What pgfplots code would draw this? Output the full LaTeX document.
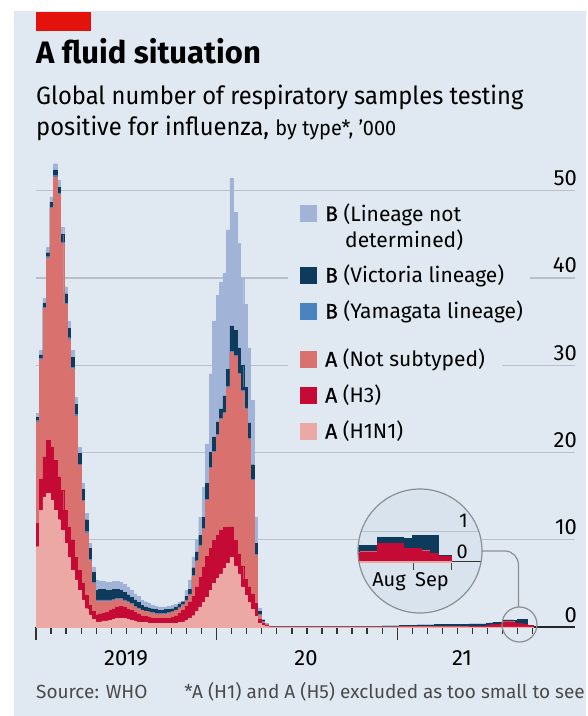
\documentclass[border=0pt]{standalone}
\usepackage{fontspec}
\setmainfont{Fira Sans}
\newfontfamily\subfont{Fira Sans}[FakeStretch=0.95]
\newfontfamily\medfont{Fira Sans}[FakeBold=0.8]
\usepackage{pgfplots}
\pgfplotsset{compat=1.18}
\usepackage{pgfplotstable}

\definecolor{bgc}{HTML}{E0E9F1}
\definecolor{insetbg}{HTML}{D8E3ED}
\definecolor{gridc}{HTML}{B7C1CA}
\definecolor{circc}{HTML}{8A8F94}
\definecolor{cBnd}{HTML}{A1B3D7}
\definecolor{cVic}{HTML}{0E3A5B}
\definecolor{cYam}{HTML}{4A83BF}
\definecolor{cAn}{HTML}{D9716F}
\definecolor{cH3}{HTML}{C40A35}
\definecolor{cH1}{HTML}{ECA8A5}
\definecolor{ered}{HTML}{E3120B}
\definecolor{foot}{HTML}{4A4A4A}

% weeks since 1 Jan 2019; values in '000
\pgfplotstableread{
w h1 h3 an ya vi bn
0 9.2 2.7 11.6 0.15 0.35 0.5
1 13.4 3.6 13.7 0.15 0.35 0.5
2 14.9 4.6 17.0 0.15 0.45 0.6
3 15.3 6.1 20.9 0.15 0.45 0.6
4 14.5 6.1 27.4 0.15 0.55 0.6
5 13.4 5.7 32.5 0.15 0.65 0.7
6 12.3 4.9 32.4 0.15 0.65 0.8
7 11.1 4.6 28.3 0.15 0.85 0.8
8 9.6 3.8 23.6 0.15 1.05 0.8
9 8.0 3.5 21.5 0.15 1.05 0.8
10 6.5 3.5 19.6 0.15 1.15 0.8
11 5.4 2.6 16.2 0.15 1.15 0.8
12 4.2 2.3 12.0 0.15 1.25 0.7
13 3.1 1.9 9.4 0.15 1.25 0.7
14 2.1 1.6 7.1 0.15 1.35 0.7
15 1.4 1.1 5.1 0.15 1.25 0.6
16 0.9 0.9 3.2 0.15 1.15 0.6
17 0.6 0.8 1.6 0.1 1.1 1.2
18 0.6 0.9 1.5 0.1 1.2 1.0
19 0.7 0.9 1.4 0.1 1.2 0.9
20 0.7 1.0 1.3 0.1 1.1 0.9
21 0.8 1.1 1.1 0.1 1.1 0.9
22 0.9 1.2 1.0 0.1 1.1 0.9
23 1.0 1.3 0.9 0.1 1.0 0.9
24 1.0 1.4 0.8 0.1 0.9 0.9
25 1.0 1.3 0.7 0.1 0.9 0.9
26 0.9 1.2 0.7 0.1 0.8 0.9
27 0.8 1.1 0.7 0.1 0.7 0.8
28 0.7 1.0 0.6 0.1 0.7 0.7
29 0.6 0.9 0.6 0.1 0.6 0.7
30 0.5 0.8 0.6 0.05 0.55 0.6
31 0.5 0.7 0.6 0.05 0.45 0.6
32 0.4 0.7 0.6 0.05 0.45 0.5
33 0.4 0.6 0.6 0.05 0.45 0.4
34 0.4 0.6 0.5 0.05 0.45 0.4
35 0.4 0.6 0.5 0.05 0.35 0.4
36 0.4 0.6 0.5 0.05 0.35 0.4
37 0.4 0.6 0.5 0.05 0.45 0.3
38 0.4 0.6 0.6 0.05 0.35 0.4
39 0.4 0.7 0.6 0.05 0.35 0.4
40 0.4 0.9 0.6 0.05 0.35 0.3
41 0.5 1.1 0.6 0.05 0.35 0.2
42 0.6 1.3 0.6 0.1 0.3 0.1
43 0.8 1.6 0.6 0.1 0.4 0.7
44 1.0 1.9 0.8 0.1 0.5 1.1
45 1.3 2.2 2.3 0.1 0.9 1.2
46 1.8 2.8 2.9 0.1 1.0 1.4
47 2.3 3.4 3.6 0.1 1.1 2.1
48 2.8 4.1 4.3 0.1 1.3 3.4
49 3.4 4.7 6.4 0.1 1.9 4.5
50 4.2 4.8 9.2 0.1 1.7 9.0
51 5.0 4.9 10.1 0.1 1.7 13.2
52 5.6 4.9 11.5 0.1 1.4 14.5
53 6.1 5.0 12.7 0.1 1.1 14.5
54 6.7 4.7 13.1 0.1 1.9 14.0
55 7.3 4.2 16.0 0.1 1.9 16.0
56 8.0 3.5 20.0 0.1 2.9 16.9
57 7.0 2.9 21.1 0.1 2.9 13.5
58 6.1 2.3 20.6 0.1 2.9 12.0
59 4.6 2.4 20.0 0.1 2.9 10.0
60 3.6 1.9 19.5 0.1 2.4 9.5
61 2.8 1.8 16.9 0.1 1.8 8.6
62 2.0 1.8 13.0 0.1 1.7 7.4
63 1.2 1.5 5.5 0.1 1.3 3.0
64 0.4 0.5 0.5 0.05 0.35 0.4
65 0.2 0.2 0.2 0.02 0.18 0.1
66 0.1 0.1 0.1 0.01 0.04 0.05
67 0.03 0.03 0.03 0 0.02 0.02
68 0.01 0.01 0.01 0 0.02 0.01
75 0.01 0.01 0.01 0 0.02 0.01
90 0.01 0.01 0.01 0 0.04 0.01
100 0.01 0.01 0.02 0 0.10 0.01
105 0.01 0.02 0.02 0 0.16 0.01
110 0.01 0.02 0.02 0 0.20 0.01
115 0.01 0.03 0.02 0 0.24 0.01
120 0.01 0.03 0.02 0 0.26 0.01
125 0.01 0.05 0.02 0 0.27 0.01
128 0.01 0.08 0.02 0 0.25 0.01
130 0.02 0.15 0.02 0 0.20 0.01
131 0.02 0.20 0.02 0 0.22 0.01
132 0.02 0.26 0.02 0 0.25 0.01
133 0.02 0.31 0.01 0 0.20 0.01
134 0.02 0.31 0.01 0 0.20 0.01
135 0.02 0.59 0.01 0 0.20 0.01
136 0.02 0.59 0.01 0 0.20 0.01
137 0.02 0.59 0.01 0 0.20 0.01
138 0.02 0.42 0.01 0 0.32 0.01
139 0.02 0.42 0.01 0 0.43 0.01
140 0.02 0.34 0.01 0 0.51 0.01
141 0.02 0.26 0.01 0 0.59 0.01
142 0.02 0.15 0.01 0 0.03 0.01
143.5 0.02 0.15 0.01 0 0.03 0.01
}\flu

\pgfplotsset{
  layer/.style={const plot, fill=#1, draw=#1, line width=0.3pt},
}

\newcommand\tickfont{\fontsize{22}{26}\selectfont}
\newcommand\legfont{\fontsize{21}{25}\selectfont}

\begin{document}
\begin{tikzpicture}
\fill[white] (0pt,0pt) rectangle (586pt,-716pt);
\fill[bgc] (14pt,-11pt) rectangle (586pt,-716pt);
\fill[ered] (36pt,-12pt) rectangle (91pt,-31pt);
\node[anchor=base west, inner sep=0pt, font=\fontsize{31}{36}\selectfont\bfseries] at (36pt,-63pt) {A fluid situation};
\node[anchor=base west, inner sep=0pt, font=\fontsize{25}{30}\selectfont\subfont] at (36pt,-104pt) {Global number of respiratory samples testing};
\node[anchor=base west, inner sep=0pt, font=\fontsize{25}{30}\selectfont\subfont] at (36pt,-135pt) {positive for influenza, {\fontsize{21}{25}\selectfont by type*, ’000}};

\begin{axis}[
  at={(36pt,-627pt)}, anchor=south west,
  scale only axis, width=539pt, height=471.2pt,
  xmin=0, xmax=155.7, ymin=0, ymax=54,
  clip=false,
  stack plots=y,
  axis line style={draw=none},
  xtick={0,52.18,104.36}, xticklabels={},
  minor xtick={4.348,8.696,...,143.5},
  xtick pos=bottom, tick align=outside,
  major tick length=13pt, minor tick length=7pt,
  x tick style={line width=1.3pt, color=black!80},
  ytick={10,20,30,40,50}, yticklabels={},
  y tick style={draw=none},
  ymajorgrids,
  grid style={line width=1.2pt, color=gridc},
]
\addplot[layer=cH1] table[x=w,y=h1]{\flu} \closedcycle;
\addplot[layer=cH3] table[x=w,y=h3]{\flu} \closedcycle;
\addplot[layer=cAn] table[x=w,y=an]{\flu} \closedcycle;
\addplot[layer=cYam] table[x=w,y=ya]{\flu} \closedcycle;
\addplot[layer=cVic] table[x=w,y=vi]{\flu} \closedcycle;
\addplot[layer=cBnd] table[x=w,y=bn]{\flu} \closedcycle;
\draw[line width=1.4pt, black!85] (axis cs:0,0) -- (axis cs:155.7,0);
\end{axis}

% y tick labels
\foreach \v/\yy in {0/627,10/539.7,20/452.5,30/365.2,40/277.9,50/190.7}{
  \node[anchor=base east, inner sep=0pt, font=\tickfont] at (577pt,-\yy pt+5pt) {\v};
}
% x labels
\node[anchor=base, inner sep=0pt, font=\tickfont] at (126pt,-665pt) {2019};
\node[anchor=base, inner sep=0pt, font=\tickfont] at (306pt,-665pt) {20};
\node[anchor=base, inner sep=0pt, font=\tickfont] at (462pt,-665pt) {21};

% legend
\fill[bgc] (288pt,-198pt) rectangle (530pt,-326pt);
\fill[bgc] (288pt,-342pt) rectangle (502pt,-445pt);
\fill[cBnd] (300pt,-205pt) rectangle (317pt,-222pt);
\fill[cVic] (300pt,-266.5pt) rectangle (317pt,-283.5pt);
\fill[cYam] (300pt,-302.5pt) rectangle (317pt,-319.5pt);
\fill[cAn] (300pt,-350.5pt) rectangle (317pt,-367.5pt);
\fill[cH3] (300pt,-386.5pt) rectangle (317pt,-403.5pt);
\fill[cH1] (300pt,-422.5pt) rectangle (317pt,-439.5pt);
\node[anchor=base west, inner sep=0pt, font=\legfont] at (325pt,-221pt) {{\medfont B} (Lineage not};
\node[anchor=base west, inner sep=0pt, font=\legfont] at (345pt,-247pt) {determined)};
\node[anchor=base west, inner sep=0pt, font=\legfont] at (325pt,-282.5pt) {{\medfont B} (Victoria lineage)};
\node[anchor=base west, inner sep=0pt, font=\legfont] at (325pt,-318.5pt) {{\medfont B} (Yamagata lineage)};
\node[anchor=base west, inner sep=0pt, font=\legfont] at (325pt,-366.5pt) {{\medfont A} (Not subtyped)};
\node[anchor=base west, inner sep=0pt, font=\legfont] at (325pt,-402.5pt) {{\medfont A} (H3)};
\node[anchor=base west, inner sep=0pt, font=\legfont] at (325pt,-438.5pt) {{\medfont A} (H1N1)};

% inset
\begin{scope}
\clip (420pt,-551pt) circle (62pt);
\fill[insetbg] (420pt,-551pt) circle (62pt);
\begin{axis}[
  at={(359pt,-561.7pt)}, anchor=south west,
  scale only axis, width=122pt, height=72pt,
  xmin=132.9, xmax=146.9, ymin=0, ymax=2.4,
  clip=false, stack plots=y,
  restrict x to domain=129:145,
  axis line style={draw=none},
  xtick={139.14,143.49}, xticklabels={},
  xtick pos=bottom, tick align=outside, major tick length=8pt,
  x tick style={line width=1.2pt, color=black!75},
  ytick={1}, yticklabels={}, y tick style={draw=none},
  ymajorgrids, grid style={line width=1pt, color=gridc},
]
\addplot[layer=cH1] table[x=w,y=h1]{\flu} \closedcycle;
\addplot[layer=cH3] table[x=w,y=h3]{\flu} \closedcycle;
\addplot[layer=cAn] table[x=w,y=an]{\flu} \closedcycle;
\addplot[layer=cYam] table[x=w,y=ya]{\flu} \closedcycle;
\addplot[layer=cVic] table[x=w,y=vi]{\flu} \closedcycle;
\addplot[layer=cBnd] table[x=w,y=bn]{\flu} \closedcycle;
\draw[line width=1.3pt, black!80] (axis cs:131,0) -- (axis cs:148,0);
\end{axis}
\node[anchor=base east, inner sep=0pt, font=\fontsize{20}{24}\selectfont] at (468pt,-527pt) {1};
\node[anchor=base east, inner sep=0pt, font=\fontsize{20}{24}\selectfont] at (468pt,-558pt) {0};
\node[anchor=base, inner sep=0pt, font=\fontsize{20}{24}\selectfont] at (389pt,-586pt) {Aug};
\node[anchor=base, inner sep=0pt, font=\fontsize{20}{24}\selectfont] at (432pt,-586pt) {Sep};
\end{scope}
\draw[circc, line width=1.2pt] (420pt,-551pt) circle (62pt);
\draw[circc, line width=1.2pt] (482pt,-551pt) -- (505pt,-551pt) to[out=0,in=90] (518.5pt,-565pt) -- (518.5pt,-607pt);
\draw[circc, line width=1.2pt] (519.5pt,-624.5pt) circle (17.5pt);

% footer
\node[anchor=base west, inner sep=0pt, font=\fontsize{19}{23}\selectfont, text=foot] at (36pt,-698pt) {Source: WHO};
\node[anchor=base east, inner sep=0pt, font=\fontsize{19}{23}\selectfont, text=foot] at (585pt,-698pt) {*A (H1) and A (H5) excluded as too small to see};
\end{tikzpicture}
\end{document}
